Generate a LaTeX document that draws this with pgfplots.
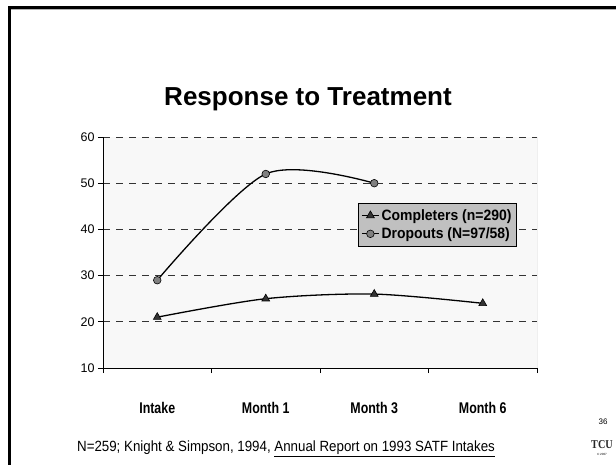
\documentclass[border=0pt]{standalone}
\usepackage{pgfplots}
\pgfplotsset{compat=1.18}
\usepackage{graphicx}
\usepackage{fontspec}
\setmainfont{Liberation Sans}
\newfontfamily\serifont{Liberation Serif}
\definecolor{legfill}{RGB}{192,192,192}
\definecolor{plotbg}{RGB}{248,248,248}
\newcommand{\nar}[1]{\scalebox{0.8}[1]{#1}}
\begin{document}
\begin{tikzpicture}
\path[use as bounding box] (0,0) rectangle (616pt,-465pt);
% slide frame
\draw[gray!60, line width=1pt] (11pt,-9.8pt) -- (616pt,-9.8pt);
\draw[line width=2.5pt] (9.5pt,-465pt) -- (9.5pt,-7.5pt) -- (616pt,-7.5pt);
\node[font=\bfseries\fontsize{26}{30}\selectfont] at (308pt,-99pt) {Response to Treatment};
\begin{axis}[
  at={(103pt,-368pt)}, anchor=south west,
  width=434pt, height=231pt, scale only axis,
  xmin=-0.5, xmax=3.5, ymin=10, ymax=60,
  axis background/.style={fill=plotbg},
  axis x line*=bottom, axis y line*=left,
  axis line style={line width=1pt},
  ytick={10,20,...,60},
  ymajorgrids,
  major grid style={dash pattern=on 7pt off 6pt, black!80, line width=0.8pt},
  tick style={black, line width=0.8pt},
  yticklabel style={font=\fontsize{12.5}{14}\selectfont, /pgf/number format/assume math mode=true},
  ytick align=outside, major tick length=5pt,
  xtick={0,1,2,3},
  xticklabels={\nar{Intake}, \nar{Month 1}, \nar{Month 3}, \nar{Month 6}},
  xtick style={draw=none},
  xticklabel style={font=\bfseries\fontsize{15.5}{17}\selectfont, yshift=-31pt},
  extra x ticks={-0.5,0.5,1.5,2.5,3.5},
  extra x tick labels={},
  extra x tick style={xtick style={draw=black}, xtick align=outside, major tick length=5pt},
  legend style={at={(0.5876,0.714)}, anchor=north west, fill=legfill, draw=black,
    font=\bfseries\fontsize{15}{18}\selectfont, inner xsep=3pt, inner ysep=4pt, row sep=2pt},
  legend cell align=left,
]
\draw[black!50, line width=0.8pt] (axis cs:3.5,10) -- (axis cs:3.5,60);
\addplot[black, line width=1.3pt, smooth, tension=0.5, mark=triangle*,
  mark size=4.5pt, mark options={fill=black!80, draw=black, line width=0.6pt}]
  coordinates {(0,21) (1,25) (2,26) (3,24)};
\addlegendentry{\scalebox{0.93}[1]{Completers (n=290)}}
\addplot[black, line width=1.3pt, smooth, tension=0.5, mark=*,
  mark size=3.8pt, mark options={fill=black!50, draw=black, line width=0.6pt}]
  coordinates {(0,29) (1,52) (2,50)};
\addlegendentry{\scalebox{0.93}[1]{Dropouts (N=97/58)}}
\end{axis}
\node[font=\fontsize{14.8}{16}\selectfont] at (286pt,-449pt)
  {\scalebox{0.9}[1]{N=259; Knight \& Simpson, 1994, \underline{Annual Report on 1993 SATF Intakes}}};
\node[font=\fontsize{8}{9}\selectfont] at (603pt,-422pt) {36};
\node[font=\serifont\bfseries\fontsize{12}{13}\selectfont, black!85, inner sep=0pt] at (602pt,-445pt) {\scalebox{0.85}[1]{TCU}};
\node[font=\fontsize{3}{3}\selectfont, inner sep=0pt] at (602pt,-454pt) {\textcopyright\ 2007};
\end{tikzpicture}
\end{document}
